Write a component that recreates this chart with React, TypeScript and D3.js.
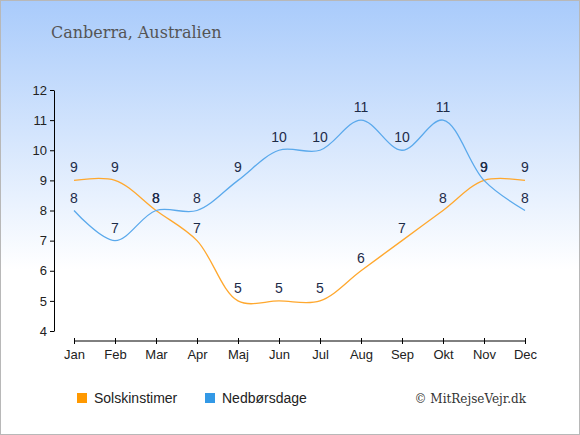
import { useRef, useEffect } from "react";
import * as d3 from "d3";

// ── Data ──────────────────────────────────────────────────────────────────────

const MONTHS = ["Jan", "Feb", "Mar", "Apr", "Maj", "Jun", "Jul", "Aug", "Sep", "Okt", "Nov", "Dec"];
const SUN_HOURS = [9, 9, 8, 7, 5, 5, 5, 6, 7, 8, 9, 9];
const RAIN_DAYS = [8, 7, 8, 8, 9, 10, 10, 11, 10, 11, 9, 8];
const Y_TICKS = [4, 5, 6, 7, 8, 9, 10, 11, 12];

// ── Constants ─────────────────────────────────────────────────────────────────

const WIDTH = 580;
const HEIGHT = 435;
const SUN_COLOR = "#ffa82e";
const RAIN_COLOR = "#5aa9ec";
const LABEL_COLOR = "#1d2b48";
const SANS = "'Liberation Sans', Arial, sans-serif";
const SERIF = "'DejaVu Serif', serif";

function renderChart(svg: SVGSVGElement): void {
  const root = d3.select(svg);
  root.selectAll("*").remove();

  const defs = root.append("defs");
  const grad = defs
    .append("linearGradient")
    .attr("id", "bg-grad")
    .attr("x1", "0%")
    .attr("y1", "0%")
    .attr("x2", "0%")
    .attr("y2", "100%");
  grad.append("stop").attr("offset", "0%").attr("stop-color", "#a9cbfb");
  grad.append("stop").attr("offset", "62%").attr("stop-color", "#ffffff");
  grad.append("stop").attr("offset", "100%").attr("stop-color", "#ffffff");

  root
    .append("rect")
    .attr("x", 0.5)
    .attr("y", 0.5)
    .attr("width", WIDTH - 1)
    .attr("height", HEIGHT - 1)
    .attr("fill", "url(#bg-grad)")
    .attr("stroke", "#b8b8b8");

  // Title
  root
    .append("text")
    .attr("x", 51)
    .attr("y", 38)
    .attr("fill", "#555")
    .attr("font-size", 16)
    .attr("font-family", SERIF)
    .text("Canberra, Australien");

  const xScale = d3.scalePoint<string>().domain(MONTHS).range([74, 525]);
  const yScale = d3.scaleLinear().domain([4, 12]).range([331, 90]);

  // Y axis
  const yAxis = root
    .append("g")
    .attr("transform", "translate(54,0)")
    .call(d3.axisLeft(yScale).tickValues(Y_TICKS).tickSize(4).tickSizeOuter(0).tickFormat(d3.format("d")));
  yAxis.select(".domain").attr("stroke", "#000");
  yAxis.selectAll("line").attr("stroke", "#000");
  yAxis
    .selectAll("text")
    .attr("fill", "#222")
    .attr("font-size", 13)
    .attr("font-family", SANS)
    .attr("x", -7);

  // X axis
  const xAxis = root
    .append("g")
    .attr("transform", "translate(0,341)")
    .call(d3.axisBottom(xScale).tickSize(4).tickSizeOuter(0));
  xAxis.select(".domain").attr("stroke", "#000").attr("d", "M74,0H525");
  xAxis.selectAll(".tick line").attr("y1", -3).attr("y2", 3).attr("stroke", "#000");
  xAxis
    .selectAll("text")
    .attr("fill", "#222")
    .attr("font-size", 13)
    .attr("font-family", SANS)
    .attr("y", 9);

  const line = d3
    .line<number>()
    .x((_, i) => xScale(MONTHS[i]) ?? 0)
    .y((d) => yScale(d))
    .curve(d3.curveCatmullRom.alpha(0.5));

  const series = [
    { values: SUN_HOURS, color: SUN_COLOR },
    { values: RAIN_DAYS, color: RAIN_COLOR },
  ];

  series.forEach((s) => {
    root
      .append("path")
      .attr("d", line(s.values))
      .attr("fill", "none")
      .attr("stroke", s.color)
      .attr("stroke-width", 1.3);
  });

  series.forEach((s) => {
    root
      .append("g")
      .selectAll("text")
      .data(s.values)
      .join("text")
      .attr("x", (_, i) => xScale(MONTHS[i]) ?? 0)
      .attr("y", (d) => yScale(d) - 8)
      .attr("text-anchor", "middle")
      .attr("fill", LABEL_COLOR)
      .attr("font-size", 14)
      .attr("font-family", SANS)
      .text((d) => d);
  });

  // Legend
  const legend = [
    { label: "Solskinstimer", color: "#ff9900", x: 77 },
    { label: "Nedbørsdage", color: "#3399e6", x: 205 },
  ];
  legend.forEach((l) => {
    root
      .append("rect")
      .attr("x", l.x)
      .attr("y", 393)
      .attr("width", 10)
      .attr("height", 10)
      .attr("fill", l.color);
    root
      .append("text")
      .attr("x", l.x + 17)
      .attr("y", 403)
      .attr("fill", "#222")
      .attr("font-size", 14)
      .attr("font-family", SANS)
      .text(l.label);
  });

  root
    .append("text")
    .attr("x", 526)
    .attr("y", 403)
    .attr("text-anchor", "end")
    .attr("fill", "#333")
    .attr("font-size", 12)
    .attr("font-family", SERIF)
    .text("© MitRejseVejr.dk");
}

export default function App() {
  const svgRef = useRef<SVGSVGElement>(null);

  useEffect(() => {
    if (!svgRef.current) return;
    renderChart(svgRef.current);
  }, []);

  return (
    <svg
      ref={svgRef}
      width={WIDTH}
      height={HEIGHT}
      style={{ position: "absolute", left: 0, top: 0 }}
    />
  );
}
